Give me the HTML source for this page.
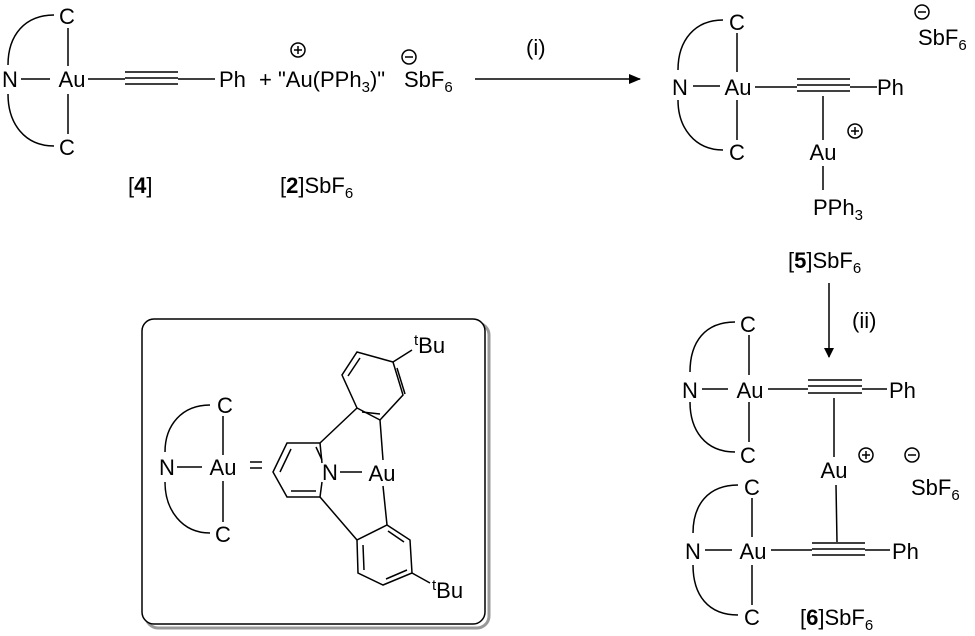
<!DOCTYPE html>
<html><head><meta charset="utf-8"><style>
html,body{margin:0;padding:0;background:#fff}
svg{display:block}
text{font-family:"Liberation Sans",Arial,sans-serif;font-size:22px;fill:#000}
.s{font-size:15px}
</style></head><body>
<svg width="975" height="636" viewBox="0 0 975 636" xmlns="http://www.w3.org/2000/svg">
<defs><marker id="ah" markerWidth="10" markerHeight="10" refX="9" refY="5" orient="auto" markerUnits="userSpaceOnUse"><path d="M0,0 L10,5 L0,10 z" fill="#000"/></marker>
<marker id="ah2" markerWidth="12" markerHeight="22" refX="11" refY="5" orient="auto" markerUnits="userSpaceOnUse"><path d="M0,0 L12,5 L0,10 z" fill="#000"/></marker></defs>
<g stroke="#000" stroke-width="1.5" fill="none">
<path d="M54,15 C25,15 8,35 8,65"/><path d="M8,94 C8,124 25,146 54,146"/>
<line x1="68" y1="28" x2="68" y2="66"/><line x1="68" y1="94" x2="68" y2="134"/>
<line x1="21" y1="79" x2="50" y2="79"/>
<line x1="88" y1="79" x2="125" y2="79"/>
<line x1="125" y1="72" x2="178" y2="72"/><line x1="125" y1="78" x2="178" y2="78"/><line x1="125" y1="84" x2="178" y2="84"/>
<line x1="178" y1="79" x2="215" y2="79"/>
<circle cx="298" cy="50" r="7"/><line x1="294" y1="50" x2="302" y2="50"/><line x1="298" y1="46" x2="298" y2="54"/>
<circle cx="409" cy="57" r="7"/><line x1="405" y1="57" x2="413" y2="57"/>
<line x1="475" y1="79" x2="640" y2="79" marker-end="url(#ah2)"/>
<path d="M723,20 C695,20 678,40 678,70"/><path d="M678,100 C678,128 695,150 723,150"/>
<line x1="737" y1="33" x2="737" y2="72"/><line x1="737" y1="100" x2="737" y2="140"/>
<line x1="693" y1="86" x2="720" y2="86"/>
<line x1="755" y1="87" x2="797" y2="87"/>
<line x1="797" y1="79" x2="850" y2="79"/><line x1="797" y1="85" x2="850" y2="85"/><line x1="797" y1="91" x2="850" y2="91"/>
<line x1="850" y1="87" x2="877" y2="87"/>
<line x1="823" y1="96" x2="823" y2="140"/><line x1="823" y1="166" x2="823" y2="190"/>
<circle cx="855" cy="131" r="7"/><line x1="851" y1="131" x2="859" y2="131"/><line x1="855" y1="127" x2="855" y2="135"/>
<circle cx="922" cy="12" r="7"/><line x1="918" y1="12" x2="926" y2="12"/>
<line x1="829" y1="283" x2="829" y2="357" marker-end="url(#ah)"/>
<path d="M735,322 C705,322 690,342 690,372"/><path d="M690,402 C690,430 705,452 735,452"/>
<line x1="749" y1="335" x2="749" y2="375"/><line x1="749" y1="402" x2="749" y2="442"/>
<line x1="702" y1="389" x2="728" y2="389"/>
<line x1="768" y1="389" x2="808" y2="389"/>
<line x1="808" y1="380" x2="862" y2="380"/><line x1="808" y1="386" x2="862" y2="386"/><line x1="808" y1="393" x2="862" y2="393"/>
<line x1="862" y1="389" x2="887" y2="389"/>
<line x1="834" y1="398" x2="834" y2="457"/><line x1="836" y1="485" x2="837" y2="542"/>
<circle cx="866" cy="455" r="7"/><line x1="862" y1="455" x2="870" y2="455"/><line x1="866" y1="451" x2="866" y2="459"/>
<circle cx="912" cy="455" r="7"/><line x1="908" y1="455" x2="916" y2="455"/>
<path d="M738,485 C708,485 693,505 693,533"/><path d="M693,565 C693,595 708,615 738,615"/>
<line x1="752" y1="498" x2="752" y2="537"/><line x1="752" y1="565" x2="752" y2="605"/>
<line x1="705" y1="550" x2="732" y2="550"/>
<line x1="771" y1="550" x2="812" y2="550"/>
<line x1="812" y1="543" x2="865" y2="543"/><line x1="812" y1="549" x2="865" y2="549"/><line x1="812" y1="555" x2="865" y2="555"/>
<line x1="865" y1="550" x2="890" y2="550"/>
<rect x="146" y="323" width="343" height="305" rx="12" stroke="#999" stroke-width="3"/>
<rect x="142" y="319" width="343" height="305" rx="12" fill="#fff"/>
<path d="M210,405 C182,405 165,425 165,452"/><path d="M165,482 C165,510 182,533 210,533"/>
<line x1="223" y1="416" x2="223" y2="455"/><line x1="223" y1="481" x2="223" y2="522"/>
<line x1="177" y1="467" x2="202" y2="467"/>
<line x1="250" y1="462" x2="262" y2="462"/><line x1="250" y1="468" x2="262" y2="468"/>
<polyline points="322,463 320,443 287,443 273,472 287,497 320,497 322,482"/>
<line x1="291" y1="449" x2="280" y2="472"/><line x1="291" y1="491" x2="316" y2="491"/><line x1="316" y1="447" x2="322" y2="460"/>
<line x1="340" y1="472" x2="362" y2="472"/>
<line x1="320" y1="443" x2="357" y2="408"/>
<polygon points="357,408 342,375 357,352 393,362 403,395 380,420"/>
<line x1="348" y1="376" x2="360" y2="358"/><line x1="397" y1="368" x2="405" y2="394"/><line x1="362" y1="412" x2="380" y2="414"/>
<line x1="380" y1="420" x2="383" y2="460"/>
<line x1="393" y1="362" x2="412" y2="350"/>
<line x1="320" y1="497" x2="357" y2="540"/>
<polygon points="357,540 358,573 383,585 412,573 410,540 387,525"/>
<line x1="363" y1="545" x2="364" y2="570"/><line x1="386" y1="579" x2="407" y2="570"/><line x1="388" y1="531" x2="404" y2="542"/>
<line x1="383" y1="486" x2="387" y2="525"/>
<line x1="412" y1="573" x2="430" y2="583"/>
</g>
<text x="67" y="24" text-anchor="middle">C</text>
<text x="72" y="87" text-anchor="middle">Au</text>
<text x="10" y="87" text-anchor="middle">N</text>
<text x="67" y="155" text-anchor="middle">C</text>
<text x="219" y="87">Ph</text>
<text x="259" y="87">+ "Au(PPh<tspan class="s" dy="5">3</tspan><tspan dy="-5">)"</tspan></text>
<text x="404" y="87">SbF<tspan class="s" dy="5">6</tspan></text>
<text x="526" y="55">(i)</text>
<text x="128" y="193">[<tspan font-weight="bold">4</tspan>]</text>
<text x="280" y="193">[<tspan font-weight="bold">2</tspan>]SbF<tspan class="s" dy="5">6</tspan></text>
<text x="737" y="30" text-anchor="middle">C</text>
<text x="738" y="95" text-anchor="middle">Au</text>
<text x="680" y="95" text-anchor="middle">N</text>
<text x="737" y="160" text-anchor="middle">C</text>
<text x="877" y="95">Ph</text>
<text x="823" y="160" text-anchor="middle">Au</text>
<text x="813" y="215">PPh<tspan class="s" dy="5">3</tspan></text>
<text x="918" y="45">SbF<tspan class="s" dy="5">6</tspan></text>
<text x="788" y="268">[<tspan font-weight="bold">5</tspan>]SbF<tspan class="s" dy="5">6</tspan></text>
<text x="852" y="328">(ii)</text>
<text x="748" y="332" text-anchor="middle">C</text>
<text x="750" y="398" text-anchor="middle">Au</text>
<text x="690" y="398" text-anchor="middle">N</text>
<text x="748" y="463" text-anchor="middle">C</text>
<text x="889" y="398">Ph</text>
<text x="834" y="478" text-anchor="middle">Au</text>
<text x="911" y="495">SbF<tspan class="s" dy="5">6</tspan></text>
<text x="752" y="495" text-anchor="middle">C</text>
<text x="753" y="559" text-anchor="middle">Au</text>
<text x="693" y="559" text-anchor="middle">N</text>
<text x="752" y="625" text-anchor="middle">C</text>
<text x="892" y="559">Ph</text>
<text x="800" y="625">[<tspan font-weight="bold">6</tspan>]SbF<tspan class="s" dy="5">6</tspan></text>
<text x="225" y="413" text-anchor="middle">C</text>
<text x="223" y="475" text-anchor="middle">Au</text>
<text x="167" y="475" text-anchor="middle">N</text>
<text x="223" y="542" text-anchor="middle">C</text>
<text x="330" y="480" text-anchor="middle">N</text>
<text x="382" y="481" text-anchor="middle">Au</text>
<text x="414" y="353"><tspan class="s" dy="-8">t</tspan><tspan dy="8">Bu</tspan></text>
<text x="432" y="598"><tspan class="s" dy="-8">t</tspan><tspan dy="8">Bu</tspan></text>
</svg>
</body></html>
